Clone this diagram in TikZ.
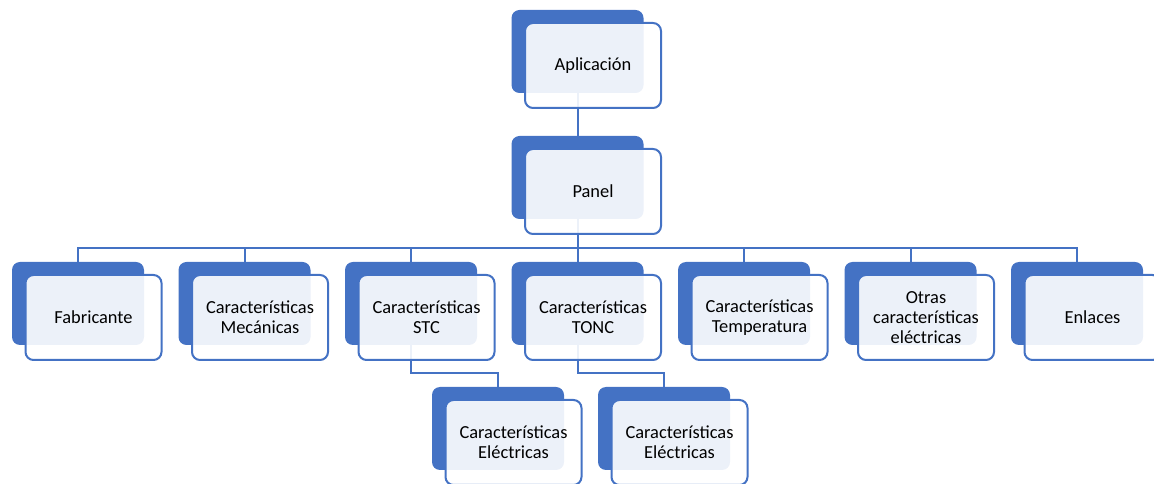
\documentclass[tikz,border=0pt]{standalone}
\usepackage{fontspec}
\setmainfont{Carlito}
\usetikzlibrary{positioning}
\definecolor{azul}{HTML}{4472C4}
\tikzstyle{fondo}=[rectangle, rounded corners=6pt, fill=azul, inner sep=0pt, minimum width=99pt, minimum height=62.25pt]
\tikzstyle{tarjeta}=[rectangle, rounded corners=6pt, draw=azul, line width=1.5pt, fill=white, fill opacity=0.9, text opacity=1, inner sep=0pt, minimum width=102pt, minimum height=63.75pt, align=center, font=\fontsize{13.8}{15.2}\selectfont]
\tikzstyle{enlace}=[draw=azul, line width=1.5pt]
\newcommand{\fondo}{\node[fondo]}
\newcommand{\tarjeta}{\node[tarjeta]}

\begin{document}
\begin{tikzpicture}[x=0.75pt, y=-0.75pt]
\useasboundingbox (0,0) rectangle (1154,484);
\clip (0,0) rectangle (1154,484);
% fondos
\fondo (aplF) at (577.5,51.5) {};
\fondo (panF) at (577.5,177.5) {};
\fondo (fabF) at (78,303.5) {};
\fondo (mecF) at (244.5,303.5) {};
\fondo (stcF) at (411,303.5) {};
\fondo (toncF) at (577.5,303.5) {};
\fondo (tempF) at (744,303.5) {};
\fondo (otrF) at (910.5,303.5) {};
\fondo (enlF) at (1077,303.5) {};
\fondo (elecAF) at (498,428.5) {};
\fondo (elecBF) at (664,428.5) {};
% enlaces
\draw[enlace] (aplF.south) -- (panF.north);
\draw[enlace] (panF.south) -- ++(0,29) -| (fabF.north);
\draw[enlace] (panF.south) -- ++(0,29) -| (mecF.north);
\draw[enlace] (panF.south) -- ++(0,29) -| (stcF.north);
\draw[enlace] (panF.south) -- (toncF.north);
\draw[enlace] (panF.south) -- ++(0,29) -| (tempF.north);
\draw[enlace] (panF.south) -- ++(0,29) -| (otrF.north);
\draw[enlace] (panF.south) -- ++(0,29) -| (enlF.north);
\draw[enlace] (stcF.south) -- ++(0,28) -| (elecAF.north);
\draw[enlace] (toncF.south) -- ++(0,28) -| (elecBF.north);
% tarjetas
\tarjeta (apl) at ([shift={(15.5,14)}]aplF) {Aplicación};
\tarjeta (pan) at ([shift={(15.5,14)}]panF) {Panel};
\tarjeta (fab) at ([shift={(15.5,14)}]fabF) {Fabricante};
\tarjeta (mec) at ([shift={(15.5,14)}]mecF) {Características\\Mecánicas};
\tarjeta (stc) at ([shift={(15.5,14)}]stcF) {Características\\STC};
\tarjeta (tonc) at ([shift={(15.5,14)}]toncF) {Características\\TONC};
\tarjeta (temp) at ([shift={(15.5,14)}]tempF) {Características\\Temperatura};
\tarjeta (otr) at ([shift={(15.5,14)}]otrF) {Otras\\características\\eléctricas};
\tarjeta (enl) at ([shift={(15.5,14)}]enlF) {Enlaces};
\tarjeta (elecA) at ([shift={(15.5,14)}]elecAF) {Características\\Eléctricas};
\tarjeta (elecB) at ([shift={(15.5,14)}]elecBF) {Características\\Eléctricas};
\end{tikzpicture}
\end{document}
